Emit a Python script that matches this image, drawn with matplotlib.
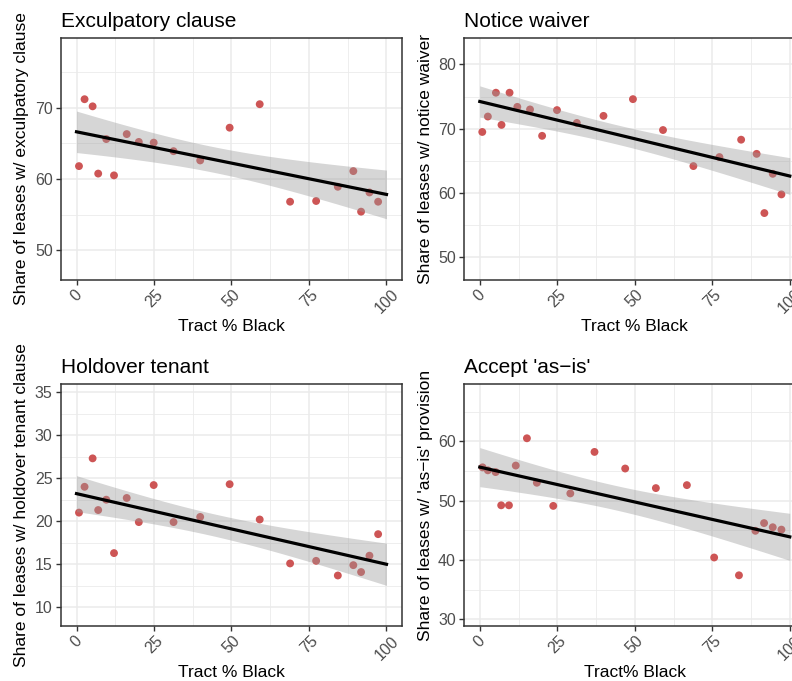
import matplotlib
matplotlib.use("Agg")
import matplotlib.pyplot as plt
import numpy as np
from matplotlib.ticker import AutoMinorLocator, FixedLocator

plt.rcParams["font.family"] = ["Liberation Sans", "DejaVu Sans"]

# tract % Black for the first three panels (same tracts)
tract_black = [0.8, 2.6, 5.2, 7.0, 9.6, 12.1, 16.2, 20.1, 24.9, 31.3,
               39.9, 49.4, 59.1, 68.9, 77.3, 84.3, 89.3, 91.8, 94.5, 97.3]
exculpatory = [61.8, 71.2, 70.2, 60.75, 65.6, 60.5, 66.3, 65.2, 65.1, 63.9,
               62.6, 67.2, 70.5, 56.8, 56.9, 58.9, 61.1, 55.4, 58.1, 56.8]
notice_waiver = [69.5, 71.9, 75.6, 70.6, 75.6, 73.4, 73.0, 68.9, 72.9, 70.9,
                 72.0, 74.6, 69.8, 64.2, 65.6, 68.3, 66.1, 56.9, 63.0, 59.8]
holdover = [21.0, 24.0, 27.3, 21.3, 22.5, 16.3, 22.7, 19.9, 24.2, 19.9,
            20.5, 24.3, 20.2, 15.1, 15.4, 13.7, 14.9, 14.1, 16.0, 18.5]

# the 'as-is' panel uses its own tract set
tract_black_asis = [0.9, 2.6, 5.1, 6.9, 9.4, 11.6, 15.2, 18.4, 23.7, 29.2,
                    37.0, 46.9, 56.8, 66.8, 75.6, 83.6, 88.9, 91.7, 94.5, 97.3]
as_is = [55.6, 55.1, 54.8, 49.2, 49.2, 55.9, 60.5, 53.0, 49.1, 51.2,
         58.2, 55.4, 52.1, 52.6, 40.4, 37.4, 44.9, 46.2, 45.5, 45.1]

titles = ["Exculpatory clause", "Notice waiver", "Holdover tenant", "Accept 'as\u2212is'"]
ylabels = ["Share of leases w/ exculpatory clause",
           "Share of leases w/ notice waiver",
           "Share of leases w/ holdover tenant clause",
           "Share of leases w/ 'as\u2212is' provision"]
xlabels = ["Tract % Black", "Tract % Black", "Tract % Black", "Tract% Black"]
yticks = [[50, 60, 70], [50, 60, 70, 80], [10, 15, 20, 25, 30, 35], [30, 40, 50, 60]]
ylims = [(45.8, 79.8), (46.5, 84.1), (7.8, 35.9), (28.8, 69.6)]

T_CRIT = 2.101  # t(0.975, df=18)


def lm_band(x, y, grid):
    x = np.asarray(x, float)
    y = np.asarray(y, float)
    n = len(x)
    b, a = np.polyfit(x, y, 1)
    resid = y - (a + b * x)
    s = np.sqrt(np.sum(resid ** 2) / (n - 2))
    sxx = np.sum((x - x.mean()) ** 2)
    fit = a + b * grid
    se = s * np.sqrt(1.0 / n + (grid - x.mean()) ** 2 / sxx)
    return fit, fit - T_CRIT * se, fit + T_CRIT * se


fig = plt.figure(figsize=(7.92, 6.81), dpi=100)
W, H = 792, 681
boxes = [(61, 38), (464.3, 38), (61, 384.3), (464.3, 384.3)]
aw, ah = 341, 242

panels = [(tract_black, exculpatory), (tract_black, notice_waiver),
          (tract_black, holdover), (tract_black_asis, as_is)]

grid = np.linspace(0, 100, 200)
for i, (xs, ys) in enumerate(panels):
    left, top = boxes[i]
    ax = fig.add_axes([left / W, 1 - (top + ah) / H, aw / W, ah / H])
    ax.set_axisbelow(True)
    ax.scatter(xs, ys, s=32, color="#CD5555", edgecolors="none", zorder=2)
    fit, lo, hi = lm_band(xs, ys, grid)
    ax.fill_between(grid, lo, hi, color="#999999", alpha=0.4, lw=0, zorder=3)
    ax.plot(grid, fit, color="black", lw=2.3, zorder=4)

    ax.set_xlim(-5, 105)
    ax.set_ylim(*ylims[i])
    ax.xaxis.set_major_locator(FixedLocator([0, 25, 50, 75, 100]))
    ax.xaxis.set_minor_locator(FixedLocator([12.5, 37.5, 62.5, 87.5]))
    ax.yaxis.set_major_locator(FixedLocator(yticks[i]))
    ax.yaxis.set_minor_locator(AutoMinorLocator(2))
    ax.grid(which="major", color="#EBEBEB", lw=1.1)
    ax.grid(which="minor", color="#EBEBEB", lw=0.6)
    for sp in ax.spines.values():
        sp.set_color("#333333")
        sp.set_linewidth(1.1)
    ax.tick_params(which="major", length=3.5, width=1, color="#333333",
                   labelsize=11.5, labelcolor="#4D4D4D")
    ax.tick_params(axis="x", which="major", pad=1.5)
    ax.tick_params(axis="y", which="major", pad=2.5)
    ax.tick_params(which="minor", length=0)
    for lab in ax.get_xticklabels():
        lab.set_rotation(45)
        lab.set_ha("center")
        lab.set_va("top")

    ax.set_title(titles[i], loc="left", fontsize=15, pad=8)
    ax.set_xlabel(xlabels[i], fontsize=12.5, labelpad=2)
    ax.set_ylabel(ylabels[i], fontsize=12.5, labelpad=4)

fig.savefig("out.png", dpi=100)
